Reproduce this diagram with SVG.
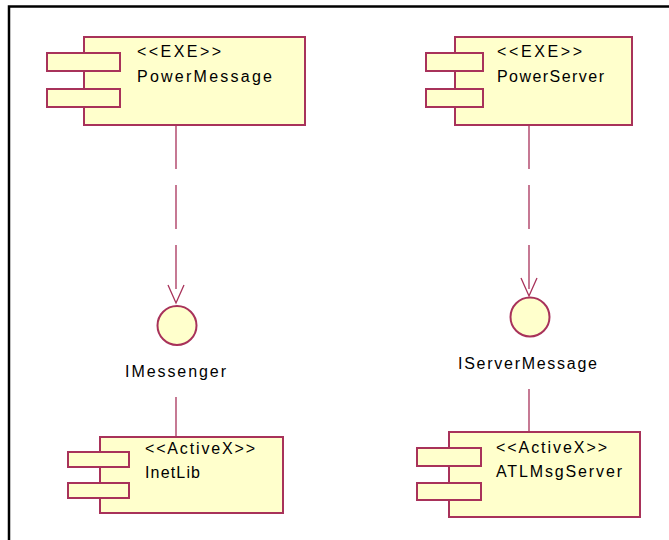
<svg xmlns="http://www.w3.org/2000/svg" width="669" height="540" viewBox="0 0 669 540">
  <style>
    .frame { fill: none; stroke: #000; stroke-width: 2.5; }
    .body, .tab, .iface { fill: #FFFFCC; stroke: #A8325A; stroke-width: 2; }
    .dep { fill: none; stroke: #A8325A; stroke-width: 1.3; stroke-dasharray: 44 16; }
    .real { fill: none; stroke: #A8325A; stroke-width: 1.3; }
    .head { fill: none; stroke: #A8325A; stroke-width: 1.3; }
    text { font-family: "Liberation Sans", Arial, sans-serif; font-size: 16px; fill: #000; }
  </style>

  <!-- diagram frame -->
  <rect class="frame" x="9" y="6.5" width="700" height="560"/>

  <!-- connectors -->
  <g id="connectors">
    <path class="dep" d="M176,125 V303"/>
    <path class="head" d="M168,285 L176,303 L184,285"/>
    <path class="dep" d="M529,125 V296"/>
    <path class="head" d="M521,278 L529,296 L537,278"/>
    <path class="real" d="M176,397 V437"/>
    <path class="real" d="M529,389 V432"/>
  </g>

  <!-- components -->
  <g id="PowerMessage">
    <rect class="body" x="84" y="37" width="221" height="88"/>
    <rect class="tab" x="47" y="53" width="73" height="18"/>
    <rect class="tab" x="47" y="89" width="73" height="18"/>
    <text x="137" y="57" textLength="84" lengthAdjust="spacing">&lt;&lt;EXE&gt;&gt;</text>
    <text x="137" y="81.5" textLength="135" lengthAdjust="spacing">PowerMessage</text>
  </g>

  <g id="PowerServer">
    <rect class="body" x="455" y="37" width="177" height="88"/>
    <rect class="tab" x="426" y="53" width="57" height="18"/>
    <rect class="tab" x="426" y="89" width="57" height="18"/>
    <text x="497" y="57" textLength="85" lengthAdjust="spacing">&lt;&lt;EXE&gt;&gt;</text>
    <text x="497" y="81.5" textLength="107" lengthAdjust="spacing">PowerServer</text>
  </g>

  <!-- interfaces -->
  <g id="IMessenger">
    <circle class="iface" cx="177" cy="325.5" r="19.5"/>
    <text x="125" y="377.3" textLength="101" lengthAdjust="spacing">IMessenger</text>
  </g>

  <g id="IServerMessage">
    <circle class="iface" cx="530" cy="317" r="19.5"/>
    <text x="458" y="369.3" textLength="139" lengthAdjust="spacing">IServerMessage</text>
  </g>

  <g id="InetLib">
    <rect class="body" x="100" y="437" width="183" height="76"/>
    <rect class="tab" x="68" y="452" width="61" height="15"/>
    <rect class="tab" x="68" y="483" width="61" height="15"/>
    <text x="145" y="454" textLength="110" lengthAdjust="spacing">&lt;&lt;ActiveX&gt;&gt;</text>
    <text x="145" y="478.3" textLength="55" lengthAdjust="spacing">InetLib</text>
  </g>

  <g id="ATLMsgServer">
    <rect class="body" x="449" y="432" width="191" height="85"/>
    <rect class="tab" x="417" y="448" width="64" height="18"/>
    <rect class="tab" x="417" y="483" width="64" height="17"/>
    <text x="496" y="453" textLength="111" lengthAdjust="spacing">&lt;&lt;ActiveX&gt;&gt;</text>
    <text x="496" y="477" textLength="126" lengthAdjust="spacing">ATLMsgServer</text>
  </g>
</svg>
